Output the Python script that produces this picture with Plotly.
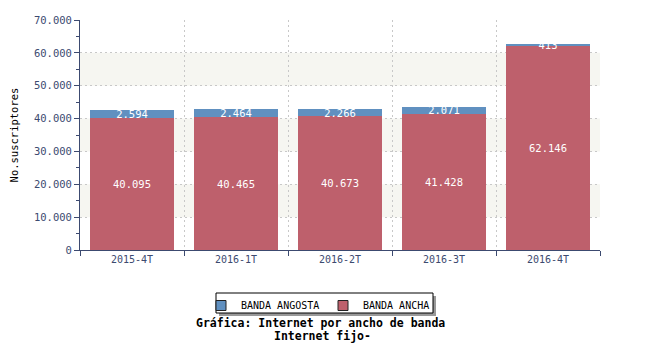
import plotly.graph_objects as go

categories = ["2015-4T", "2016-1T", "2016-2T", "2016-3T", "2016-4T"]
banda_ancha = [40095, 40465, 40673, 41428, 62146]
banda_angosta = [2594, 2464, 2266, 2071, 413]
y_ticks = [0, 10000, 20000, 30000, 40000, 50000, 60000, 70000]

def fmt(v):
    return f"{v:,}".replace(",", ".")

FONT = "DejaVu Sans Mono"
AXIS = "#3c4a70"
RED = "rgb(190,96,108)"
BLUE = "rgb(96,144,192)"
OFF = 8  # browser body margin

def py(p):  # pixel row -> paper y
    return (250 - p) / 230

def px(p):  # pixel column -> paper x
    return (p - 80) / 520

fig = go.Figure()
fig.add_trace(go.Bar(
    name="BANDA ANCHA", x=categories, y=banda_ancha,
    marker=dict(color=RED, line=dict(width=0)),
    text=[fmt(v) for v in banda_ancha], textposition="inside",
    insidetextanchor="middle", constraintext="none",
    textfont=dict(family=FONT, size=10.5, color="white"),
    hoverinfo="skip", showlegend=False,
))
fig.add_trace(go.Bar(
    name="BANDA ANGOSTA", x=categories, y=banda_angosta,
    marker=dict(color=BLUE, line=dict(width=0)),
    text=[fmt(v) for v in banda_angosta], textposition="inside",
    insidetextanchor="middle", constraintext="none",
    textfont=dict(family=FONT, size=10.5, color="white"),
    hoverinfo="skip", showlegend=False,
))
# legend entries (square swatches with black border)
for name, col in (("BANDA ANGOSTA", BLUE), ("BANDA ANCHA", RED)):
    fig.add_trace(go.Scatter(
        x=[None], y=[None], mode="markers", name=name,
        marker=dict(symbol="square", size=10, color=col,
                    line=dict(color="#222222", width=1)),
        hoverinfo="skip",
    ))

# alternating background bands
shapes = []
for lo in (10000, 30000, 50000):
    shapes.append(dict(type="rect", xref="paper", yref="y", x0=0, x1=1,
                       y0=lo, y1=lo + 10000, fillcolor="rgb(246,246,241)",
                       line=dict(width=0), layer="below"))
# legend shadow + box
shapes.append(dict(type="rect", xref="paper", yref="paper",
                   x0=px(219), x1=px(436), y0=py(316), y1=py(296),
                   fillcolor="#999999", line=dict(width=0), layer="below"))
shapes.append(dict(type="rect", xref="paper", yref="paper",
                   x0=px(216), x1=px(433), y0=py(313), y1=py(293),
                   fillcolor="white", line=dict(width=1, color="black"), layer="below"))

fig.update_layout(
    width=650, height=350,
    margin=dict(l=80 - OFF, r=50 + OFF, t=20 - OFF, b=100 + OFF, autoexpand=False),
    barmode="stack", bargap=0.19,
    paper_bgcolor="white", plot_bgcolor="white",
    font=dict(family=FONT, size=11, color=AXIS),
    shapes=shapes,
    separators=",.",
    showlegend=True,
    legend=dict(orientation="h", traceorder="normal",
                x=px(323), xanchor="center",
                y=py(291), yanchor="top",
                bgcolor="rgba(0,0,0,0)", borderwidth=0,
                font=dict(family=FONT, size=10, color="black"),
                itemwidth=30, entrywidth=77, entrywidthmode="pixels"),
    annotations=[
        dict(text="<b>Gráfica: Internet por ancho de banda</b>",
             xref="paper", yref="paper", x=px(320), y=py(323),
             xanchor="center", yanchor="middle", showarrow=False,
             font=dict(family=FONT, size=11.5, color="black")),
        dict(text="<b>Internet fijo-</b>",
             xref="paper", yref="paper", x=px(322), y=py(336),
             xanchor="center", yanchor="middle", showarrow=False,
             font=dict(family=FONT, size=11.5, color="black")),
    ],
)
fig.update_xaxes(
    type="category", tickson="boundaries", ticks="outside", ticklen=5,
    tickcolor=AXIS, showline=True, linecolor=AXIS, linewidth=1,
    showgrid=True, gridcolor="#c8c8c8", griddash="2px,3px", gridwidth=1,
    tickfont=dict(family=FONT, size=10, color=AXIS), automargin=False,
)
fig.update_yaxes(
    range=[0, 70000], tickvals=y_ticks, ticktext=[fmt(v) for v in y_ticks],
    ticks="outside", ticklen=5, tickcolor=AXIS,
    showline=True, linecolor=AXIS, linewidth=1,
    showgrid=True, gridcolor="#c8c8c8", griddash="2px,3px", gridwidth=1,
    zeroline=False, automargin=False,
    minor=dict(dtick=5000, ticks="outside", ticklen=3, tickcolor=AXIS, showgrid=False),
    title=dict(text="No.suscriptores", font=dict(family=FONT, size=10.5, color="black")),
    tickfont=dict(family=FONT, size=10.5, color=AXIS),
)

fig.write_html("out.html")
